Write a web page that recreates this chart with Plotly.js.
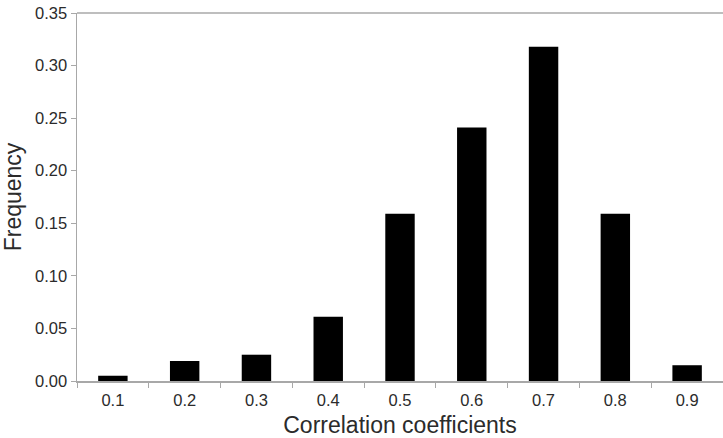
<!DOCTYPE html>
<html>
<head>
<meta charset="utf-8">
<script src="https://cdn.plot.ly/plotly-3.0.1.min.js"></script>
<style>html,body{margin:0;padding:0;background:#fff;}#chart{width:723px;height:438px;}</style>
</head>
<body>
<div id="chart"></div>
<script>
const categories = ["0.1","0.2","0.3","0.4","0.5","0.6","0.7","0.8","0.9"];
const frequency = [0.005, 0.019, 0.025, 0.061, 0.159, 0.241, 0.318, 0.159, 0.015];
const yTicks = [0, 0.05, 0.10, 0.15, 0.20, 0.25, 0.30, 0.35];
const yTickText = ["0.00","0.05","0.10","0.15","0.20","0.25","0.30","0.35"];

const font = "'Liberation Sans', Arial, Helvetica, sans-serif";
const textColor = "#2b2b2b";
const axisColor = "#a8a8a8";

Plotly.newPlot("chart", [{
  type: "bar",
  x: categories,
  y: frequency,
  width: 0.41,
  marker: {color: "#000000", line: {width: 0}},
  hoverinfo: "x+y"
}], {
  width: 723, height: 438,
  margin: {l: 77, r: 0, t: 13, b: 57},
  paper_bgcolor: "#ffffff", plot_bgcolor: "#ffffff",
  showlegend: false,
  font: {family: font, color: textColor},
  xaxis: {
    type: "category",
    tickson: "boundaries",
    ticks: "outside", ticklen: 5, tickwidth: 1, tickcolor: axisColor,
    showline: true, linecolor: axisColor, linewidth: 1.5,
    showgrid: false, zeroline: false,
    ticklabelstandoff: 4,
    tickfont: {size: 16.5, color: textColor, family: font},
    title: {text: "Correlation coefficients", font: {size: 23, color: textColor, family: font}, standoff: 9},
    automargin: false
  },
  yaxis: {
    range: [0, 0.35],
    tickvals: yTicks, ticktext: yTickText,
    ticks: "outside", ticklen: 5, tickwidth: 1, tickcolor: axisColor,
    showline: true, linecolor: axisColor, linewidth: 1.5,
    showgrid: false, zeroline: false,
    tickfont: {size: 16.5, color: textColor, family: font},
    title: {text: "Frequency", font: {size: 23, color: textColor, family: font}, standoff: 8},
    automargin: false
  },
  shapes: [{type: "line", xref: "paper", yref: "paper", x0: 0, x1: 1, y0: 1, y1: 1,
            line: {color: axisColor, width: 1.5}}]
}, {displayModeBar: false, staticPlot: true});
</script>
</body>
</html>
